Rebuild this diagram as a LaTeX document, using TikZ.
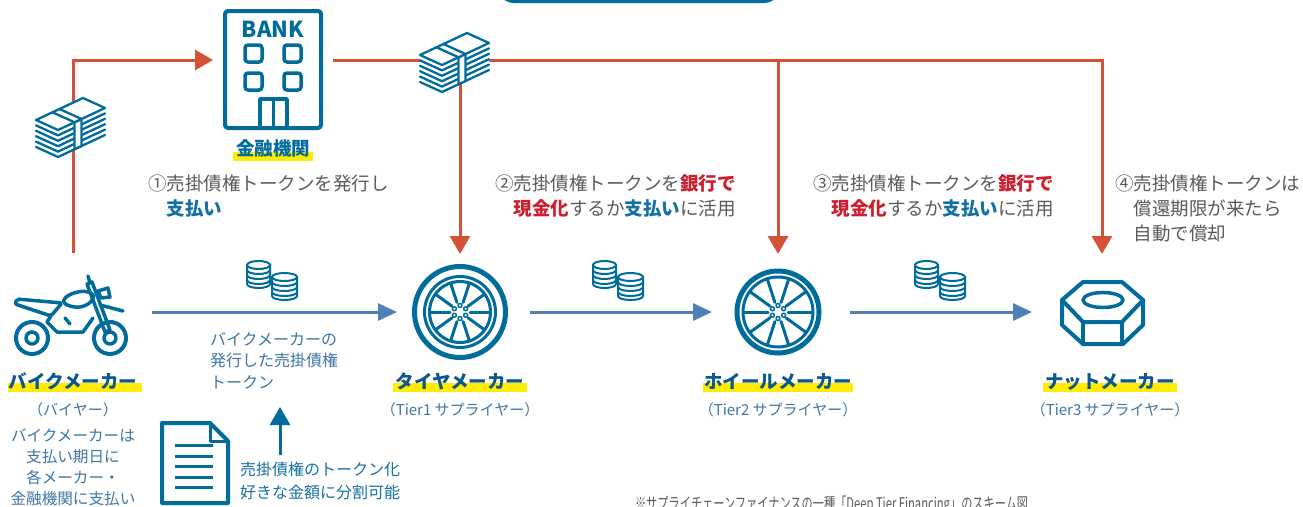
\documentclass[tikz,border=0pt]{standalone}
\usepackage{fontspec}
\setmainfont{Noto Sans CJK JP}
\newfontfamily\notefont{Noto Sans CJK JP}[FakeStretch=0.7]
\usetikzlibrary{arrows.meta}
\definecolor{iconblue}{RGB}{0,108,155}
\definecolor{linered}{RGB}{214,82,55}
\definecolor{arrowblue}{RGB}{78,130,180}
\definecolor{hlyellow}{RGB}{255,236,0}
\definecolor{txtgray}{RGB}{90,90,90}
\definecolor{txtred}{RGB}{204,30,45}
\definecolor{txtblue}{RGB}{20,112,165}
\definecolor{lblblue}{RGB}{62,118,165}
\definecolor{titleblue}{RGB}{12,88,140}
\newcommand\fsz[2]{\fontsize{#1}{#2}\selectfont}
\newcommand\coinstk[3]{%
  \filldraw[coinline, fill=white] (#1-#3,#2) -- (#1-#3,#2+19) arc[start angle=180,end angle=0,x radius=#3,y radius=4] -- (#1+#3,#2) -- cycle;
  \foreach \k in {5,10,15} \draw[coinline] (#1-#3,#2+\k) arc[start angle=180,end angle=0,x radius=#3,y radius=4];
  \filldraw[coinline, fill=white] (#1,#2) ellipse[x radius=#3,y radius=4];
}
\tikzset{
  every node/.style={inner sep=0pt, outer sep=0pt},
  iconbox/.style={minimum width=140pt, minimum height=116pt},
  iconline/.style={draw=iconblue, line width=3.5pt, line join=round, line cap=round},
  coinline/.style={draw=iconblue, line width=2pt},
  moneyline/.style={draw=iconblue, line width=2.3pt, line join=round, line cap=round},
  redarrow/.style={draw=linered, line width=3pt, -{Triangle[length=18pt,width=20pt]}},
  bluearrow/.style={draw=arrowblue, line width=3pt, -{Triangle[length=19pt,width=17pt]}},
  uparrow/.style={draw=iconblue, line width=3pt, -{Triangle[length=18pt,width=20pt]}},
  lbltitle/.style={anchor=base, font=\fsz{18.5}{20}\bfseries, text=titleblue},
  lblsub/.style={anchor=base, font=\fsz{15}{18}, text=lblblue},
  desc/.style={anchor=base west, align=left, text=txtgray, font=\fsz{18.5}{25}},
  money/.pic={
    \fill[white] (1,22) -- (48,0) -- (70,10) -- (70,37) -- (23,59) -- (1,49) -- cycle;
    \foreach \d in {5.4,10.8,16.2,21.6,27} \draw[moneyline] (1,22+\d) -- (23,32+\d) -- (70,10+\d);
    \filldraw[moneyline, fill=white] (39.5,24.3) -- (46.5,21) -- (46.5,48) -- (39.5,51.3) -- cycle;
    \filldraw[moneyline, fill=white] (1,22) -- (48,0) -- (70,10) -- (23,32) -- cycle;
    \draw[moneyline] (17.5,14.3) -- (39.5,24.3) (24.5,11) -- (46.5,21);
  },
  coins/.pic={\coinstk{11.5}{4}{11.5}\coinstk{37.5}{16}{12.5}}
}
\begin{document}
\begin{tikzpicture}[x=1pt,y=-1pt]
\useasboundingbox (0,0) rectangle (1303,506);
\clip (0,0) rectangle (1303,506);
\fill[white] (0,0) rectangle (1303,506);
% top pill (cut off)
\fill[iconblue, rounded corners=16pt] (498,-40) rectangle (780,3);

% invisible anchor boxes for icons
\node[minimum width=120pt, minimum height=100pt] (bank) at (273,60) {};
\node[minimum width=158pt, minimum height=118pt] (bike) at (73,312) {};
\node[iconbox] (tire) at (460,312) {};
\node[iconbox] (wheel) at (778,312) {};
\node[iconbox] (nut) at (1102,312) {};

% red connectors
\draw[redarrow] (bike.north) |- (bank.west);
\draw[redarrow] (bank.east) -| (nut.north);
\draw[redarrow] (tire.north |- bank.east) -- (tire.north);
\draw[redarrow] (wheel.north |- bank.east) -- (wheel.north);

% blue connectors
\draw[bluearrow] (bike.east) -- ([xshift=7pt]tire.west);
\draw[bluearrow] (tire.east) -- ([xshift=4pt]wheel.west);
\draw[bluearrow] ([xshift=2pt]wheel.east) -- (nut.west);

% money stacks
\pic at (35,98) {money};
\pic at (419,33) {money};
% coins
\pic at (247,261) {coins};
\pic at (593,261) {coins};
\pic at (915,261) {coins};

% bank icon
\draw[iconline, line width=4pt, rounded corners=3pt] (225,11) rectangle (321,128);
\node[anchor=base, font=\fsz{22}{24}\bfseries, text=iconblue] (banktxt) at (273,37) {BANK};
\foreach \x/\y in {245/45, 284/45, 245/73, 284/73} \draw[iconline, rounded corners=3pt] (\x,\y) rectangle ++(17,17);
\draw[iconline] (260,128) -- (260,99) -- (287,99) -- (287,128) (273.5,99) -- (273.5,128);
\fill[hlyellow] (233,152) rectangle (313,161);
\node[anchor=base, font=\fsz{18.5}{20}\bfseries, text=iconblue] (bankname) at (273,155) {金融機関};

% motorcycle
\draw[iconline, line width=4pt] (32,338) circle[radius=16];
\draw[iconline] (32,338) circle[radius=6];
\draw[iconline, line width=4pt] (110,338) circle[radius=16];
\draw[iconline] (110,338) circle[radius=6];
\draw[iconline, rounded corners=2pt] (17,299) -- (62,303) -- (51,316) -- (15,304) -- cycle;
\draw[iconline] plot[smooth cycle, tension=0.8] coordinates {(64,300) (74,293) (88,292) (93,298) (84,306) (70,306)};
\draw[iconline] (51,316) -- (47,322) -- (57,332) -- (83,332) -- (93,318);
\draw[iconline] (87,284) -- (92,282) -- (110,330) -- (105,332) -- cycle;
\draw[iconline] (88,276) -- (90,283);
\draw[iconline] (98,291) -- (108,288) -- (110,297) -- (101,298) -- cycle;
\draw[iconline] (100,305) -- (123,311);
\draw[iconline] (65,318) -- (70,324);

% tire
\draw[iconline, line width=5pt] (460,312) circle[radius=45.5];
\draw[iconline, line width=3pt] (460,312) circle[radius=35.5];
\draw[iconline, line width=3pt] (460,312) circle[radius=30.5];
\foreach \a in {0,36,...,324} \draw[iconline, line width=3pt, shift={(460,312)}] (\a:10) -- (\a:30);
\foreach \a in {30,90,...,330} \draw[iconline, line width=1.5pt, shift={(460,312)}] (\a:6.5) circle[radius=2];

% wheel
\draw[iconline, line width=5pt] (778,312) circle[radius=41];
\draw[iconline, line width=3pt] (778,312) circle[radius=35];
\foreach \a in {0,36,...,324} \draw[iconline, line width=3pt, shift={(778,312)}] (\a:10) -- (\a:34);
\foreach \a in {30,90,...,330} \draw[iconline, line width=1.5pt, shift={(778,312)}] (\a:6.5) circle[radius=2];

% nut
\draw[iconline, line width=4pt] (1083,282) -- (1122,282) -- (1143,300) -- (1143,325) -- (1123,344) -- (1083,344) -- (1062,325) -- (1062,300) -- cycle;
\draw[iconline, line width=4pt] (1062,300) -- (1083,322) -- (1122,322) -- (1143,300);
\draw[iconline, line width=4pt] (1083,322) -- (1083,344) (1122,322) -- (1122,344);
\draw[iconline] (1103,300) ellipse[x radius=20, y radius=7.5];

% document icon
\draw[iconline, line width=4pt] (162,423) -- (210,423) -- (228,441) -- (228,503) -- (162,503) -- cycle;
\draw[iconline, line width=3pt] (210,423) -- (210,441) -- (228,441);
\foreach \y in {445,456,466,477,487} \draw[iconline, line width=3pt, line cap=butt] (175,\y) -- (213,\y);

% up arrow
\coordinate (upbase) at (280,455);
\coordinate (uptip) at (280,407);
\draw[uparrow] (upbase) -- (uptip);

% step descriptions (anchor = baseline of last line)
\node[desc] (s1) at (148,215) {①売掛債権トークンを発行し\\\hspace*{1em}\textcolor{txtblue}{\bfseries 支払い}};
\node[desc] (s2) at (495,215) {②売掛債権トークンを\textcolor{txtred}{\bfseries 銀行で}\\\hspace*{1em}\textcolor{txtred}{\bfseries 現金化}するか\textcolor{txtblue}{\bfseries 支払い}に活用};
\node[desc] (s3) at (813,215) {③売掛債権トークンを\textcolor{txtred}{\bfseries 銀行で}\\\hspace*{1em}\textcolor{txtred}{\bfseries 現金化}するか\textcolor{txtblue}{\bfseries 支払い}に活用};
\node[desc] (s4) at (1115,240) {④売掛債権トークンは\\\hspace*{1em}償還期限が来たら\\\hspace*{1em}自動で償却};

% highlights + titles
\fill[hlyellow] (8,383) rectangle (142,392);
\fill[hlyellow] (393,383) rectangle (527,392);
\fill[hlyellow] (703,383) rectangle (853,392);
\fill[hlyellow] (1043,383) rectangle (1177,392);
\node[lbltitle] (t1) at (73,388) {バイクメーカー};
\node[lbltitle] (t2) at (460,388) {タイヤメーカー};
\node[lbltitle] (t3) at (778,388) {ホイールメーカー};
\node[lbltitle] (t4) at (1110,388) {ナットメーカー};
\node[lblsub] (u1) at (73,415) {（バイヤー）};
\node[lblsub] (u2) at (460,415) {（Tier1 サプライヤー）};
\node[lblsub] (u3) at (778,415) {（Tier2 サプライヤー）};
\node[lblsub] (u4) at (1110,415) {（Tier3 サプライヤー）};

% other texts (anchor = baseline of last line)
\node[anchor=base, align=center, text=lblblue, font=\fsz{15.6}{20.7}] (bikenote) at (73,504) {バイクメーカーは\\支払い期日に\\各メーカー・\\金融機関に支払い};
\node[anchor=base west, align=left, text=lblblue, font=\fsz{16}{21.5}] (toklbl) at (210,388) {バイクメーカーの\\発行した売掛債権\\トークン};
\node[anchor=base west, align=left, text=txtblue, font=\fsz{16}{23}] (toknote) at (240,498) {売掛債権のトークン化\\好きな金額に分割可能};
\node[anchor=base west, text=txtgray, font=\notefont\fsz{16}{18}] (note) at (635,509) {※サプライチェーンファイナンスの一種「Deep Tier Financing」のスキーム図};
\end{tikzpicture}
\end{document}
